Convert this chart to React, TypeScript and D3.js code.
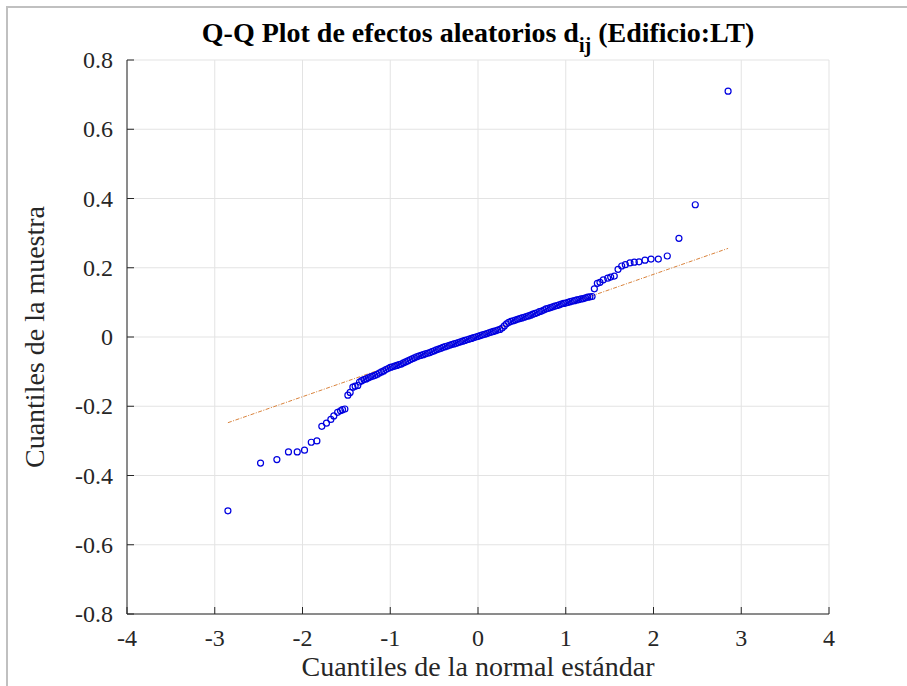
import React from "react";
import * as d3 from "d3";

const xTicks = [-4, -3, -2, -1, 0, 1, 2, 3, 4];
const yTicks = [-0.8, -0.6, -0.4, -0.2, 0, 0.2, 0.4, 0.6, 0.8];

const lowerTail: [number, number][] = [
  [-2.85, -0.502], [-2.478, -0.364], [-2.292, -0.354], [-2.16, -0.332], [-2.06, -0.332],
  [-1.977, -0.327], [-1.9, -0.304], [-1.836, -0.3], [-1.78, -0.258], [-1.727, -0.249],
  [-1.677, -0.238], [-1.643, -0.228], [-1.6, -0.2175], [-1.567, -0.213], [-1.544, -0.21],
  [-1.517, -0.208], [-1.483, -0.168], [-1.457, -0.16], [-1.426, -0.145], [-1.4, -0.142],
  [-1.37, -0.14],
];

const middleBand: [number, number][] = [
  [-1.35, -0.13], [-1.325, -0.126], [-1.3, -0.123], [-1.275, -0.121], [-1.25, -0.118],
  [-1.225, -0.115], [-1.2, -0.113], [-1.175, -0.111], [-1.15, -0.108], [-1.125, -0.104],
  [-1.1, -0.101], [-1.075, -0.098], [-1.05, -0.094], [-1.025, -0.091], [-1.0, -0.088],
  [-0.975, -0.086], [-0.95, -0.084], [-0.925, -0.082], [-0.9, -0.08], [-0.875, -0.078],
  [-0.85, -0.075], [-0.825, -0.072], [-0.8, -0.069], [-0.775, -0.066], [-0.75, -0.063],
  [-0.725, -0.06], [-0.7, -0.057], [-0.675, -0.055], [-0.65, -0.053], [-0.625, -0.051],
  [-0.6, -0.049], [-0.575, -0.047], [-0.55, -0.045], [-0.525, -0.042], [-0.5, -0.04],
  [-0.475, -0.037], [-0.45, -0.035], [-0.425, -0.033], [-0.4, -0.03], [-0.375, -0.028],
  [-0.35, -0.026], [-0.325, -0.024], [-0.3, -0.022], [-0.275, -0.02], [-0.25, -0.018],
  [-0.225, -0.016], [-0.2, -0.014], [-0.175, -0.012], [-0.15, -0.01], [-0.125, -0.008],
  [-0.1, -0.006], [-0.075, -0.004], [-0.05, -0.002], [-0.025, 0.0], [0.0, 0.002],
  [0.025, 0.004], [0.05, 0.006], [0.075, 0.008], [0.1, 0.01], [0.125, 0.012],
  [0.15, 0.014], [0.175, 0.016], [0.2, 0.018], [0.225, 0.02], [0.25, 0.022],
  [0.275, 0.026], [0.3, 0.032], [0.325, 0.038], [0.35, 0.042], [0.375, 0.045],
  [0.4, 0.047], [0.425, 0.049], [0.45, 0.051], [0.475, 0.053], [0.5, 0.055],
  [0.525, 0.057], [0.55, 0.059], [0.575, 0.061], [0.6, 0.063], [0.625, 0.066],
  [0.65, 0.068], [0.675, 0.07], [0.7, 0.073], [0.725, 0.075], [0.75, 0.078],
  [0.775, 0.081], [0.8, 0.083], [0.825, 0.085], [0.85, 0.087], [0.875, 0.089],
  [0.9, 0.091], [0.925, 0.093], [0.95, 0.095], [0.975, 0.097], [1.0, 0.098],
  [1.025, 0.1], [1.05, 0.102], [1.075, 0.104], [1.1, 0.105], [1.125, 0.107],
  [1.15, 0.108], [1.175, 0.11], [1.2, 0.111], [1.225, 0.113], [1.25, 0.115],
  [1.275, 0.116], [1.3, 0.117],
];

const upperTail: [number, number][] = [
  [1.326, 0.139], [1.36, 0.155], [1.39, 0.158], [1.428, 0.165], [1.478, 0.17],
  [1.512, 0.173], [1.553, 0.176], [1.596, 0.1955], [1.638, 0.205], [1.679, 0.209],
  [1.732, 0.214], [1.781, 0.216], [1.835, 0.217], [1.903, 0.222], [1.972, 0.225],
  [2.055, 0.225], [2.157, 0.234], [2.29, 0.285], [2.476, 0.382], [2.85, 0.71],
];

const refLineX = [-2.85, 2.85];
const refLineY = [-0.2475, 0.256];

const W = 907;
const H = 686;
const left = 127;
const right = 829;
const top = 60;
const bottom = 614;
const FONT = "'Liberation Serif', 'Times New Roman', serif";

export default function App() {
  const x = d3.scaleLinear().domain([-4, 4]).range([left, right]);
  const y = d3.scaleLinear().domain([-0.8, 0.8]).range([bottom, top]);
  const points = [...lowerTail, ...middleBand, ...upperTail];
  const line = d3
    .line<number>()
    .x((d) => x(refLineX[d]))
    .y((d) => y(refLineY[d]));
  const fmtX = (v: number) => String(v);
  const fmtY = (v: number) => (v === 0 ? "0" : d3.format(".1f")(v).replace("−", "-"));

  return (
    <svg
      width={W}
      height={H}
      style={{ position: "absolute", left: 0, top: 0, background: "#fff" }}
      fontFamily={FONT}
    >
      <rect x={0} y={0} width={W} height={H} fill="#fff" />
      <path d={`M7,${H} L7,7 L${W},7`} fill="none" stroke="#c0c0c0" strokeWidth={2} />

      {xTicks.map((t) => (
        <line key={"gx" + t} x1={x(t)} x2={x(t)} y1={top} y2={bottom} stroke="#e3e3e3" strokeWidth={1} />
      ))}
      {yTicks.map((t) => (
        <line key={"gy" + t} x1={left} x2={right} y1={y(t)} y2={y(t)} stroke="#e3e3e3" strokeWidth={1} />
      ))}

      <line x1={left} x2={left} y1={top} y2={bottom} stroke="#262626" strokeWidth={1} />
      <line x1={left} x2={right} y1={bottom} y2={bottom} stroke="#262626" strokeWidth={1} />
      {xTicks.map((t) => (
        <g key={"tx" + t}>
          <line x1={x(t)} x2={x(t)} y1={bottom} y2={bottom - 7} stroke="#262626" strokeWidth={1} />
          <text x={x(t)} y={bottom + 32} textAnchor="middle" fontSize={24} fill="#262626">
            {fmtX(t)}
          </text>
        </g>
      ))}
      {yTicks.map((t) => (
        <g key={"ty" + t}>
          <line x1={left} x2={left + 7} y1={y(t)} y2={y(t)} stroke="#262626" strokeWidth={1} />
          <text x={left - 14} y={y(t) + 8} textAnchor="end" fontSize={24} fill="#262626">
            {fmtY(t)}
          </text>
        </g>
      ))}

      <path
        d={line([0, 1]) || ""}
        fill="none"
        stroke="#d9823b"
        strokeWidth={1}
        strokeDasharray="4 1.5 1 1.5"
      />

      {points.map((p, i) => (
        <circle
          key={i}
          cx={x(p[0])}
          cy={y(p[1])}
          r={3}
          fill="none"
          stroke="#0000e0"
          strokeWidth={1.2}
        />
      ))}

      <text x={(left + right) / 2} y={42} textAnchor="middle" fontSize={28} fontWeight="bold" fill="#000">
        Q-Q Plot de efectos aleatorios d
        <tspan fontSize={20} dy={10}>ij</tspan>
        <tspan dy={-10}> (Edificio:LT)</tspan>
      </text>

      <text x={(left + right) / 2} y={676} textAnchor="middle" fontSize={28} fill="#262626">
        Cuantiles de la normal estándar
      </text>
      <text
        transform={`translate(44, ${(top + bottom) / 2}) rotate(-90)`}
        textAnchor="middle"
        fontSize={28}
        fill="#262626"
      >
        Cuantiles de la muestra
      </text>
    </svg>
  );
}
